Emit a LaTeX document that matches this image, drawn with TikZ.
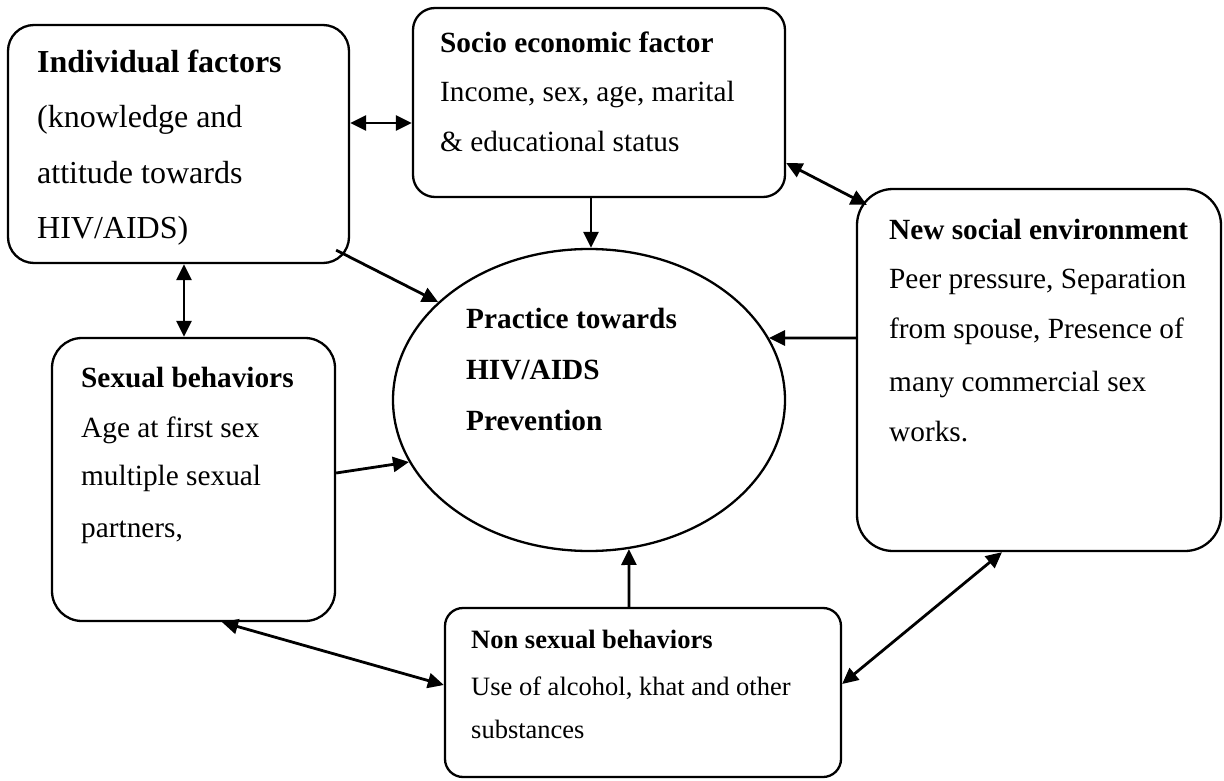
\documentclass[tikz,border=0pt]{standalone}
\usepackage{fontspec}
\setmainfont{Liberation Serif}
\usetikzlibrary{arrows.meta,shapes.geometric}
\begin{document}
\begin{tikzpicture}[x=1pt,y=-1pt,
  box/.style={draw,line width=2.3pt,rounded corners=#1,inner sep=0pt},
  txt/.style={anchor=base west,inner sep=0pt,font=\fontsize{29.3}{35}\selectfont},
  txtbig/.style={anchor=base west,inner sep=0pt,font=\fontsize{32}{38}\selectfont},
  txtsmall/.style={anchor=base west,inner sep=0pt,font=\fontsize{26.5}{32}\selectfont},
  tip/.tip={Triangle[length=16pt 0 0,width=15pt 0 0]},
  conn/.style={line width=2.8pt,-tip},
  conn2/.style={line width=2.8pt,tip-tip}
]
\useasboundingbox (0,0) rectangle (1224,781);

% boxes
\node[box=26pt,minimum width=341pt,minimum height=238pt] (ind) at (178.5,144) {};
\node[box=22pt,minimum width=372pt,minimum height=189pt] (soc) at (599,102.5) {};
\node[box=36pt,minimum width=364pt,minimum height=362pt] (new) at (1039,370) {};
\node[box=30pt,minimum width=283pt,minimum height=283pt] (sex) at (193.5,479.5) {};
\node[box=18pt,minimum width=396pt,minimum height=169pt] (non) at (643,692.5) {};
\node[draw,ellipse,line width=2.3pt,minimum width=392pt,minimum height=302pt,inner sep=0pt] (pr) at (589,400) {};

% texts
\node[txtbig] (ind1) at (37,73) {\bfseries Individual factors};
\node[txtbig] (ind2) at (37,128) {(knowledge and};
\node[txtbig] (ind3) at (37,183) {attitude towards};
\node[txtbig] (ind4) at (37,238) {HIV/AIDS)};

\node[txt] (soc1) at (440,53) {\bfseries Socio economic factor};
\node[txt] (soc2) at (440,102) {Income, sex, age, marital};
\node[txt] (soc3) at (440,152) {\& educational status};

\node[txt] (new1) at (889,239) {\bfseries New social environment};
\node[txt] (new2) at (889,288) {Peer pressure, Separation};
\node[txt] (new3) at (889,338) {from spouse, Presence of};
\node[txt] (new4) at (889,391) {many commercial sex};
\node[txt] (new5) at (889,441) {works.};

\node[txt] (sex1) at (81,387) {\bfseries Sexual behaviors};
\node[txt] (sex2) at (81,437) {Age at first sex};
\node[txt] (sex3) at (81,485) {multiple sexual};
\node[txt] (sex4) at (81,537) {partners,};

\node[txtsmall] (non1) at (471,648) {\bfseries Non sexual behaviors};
\node[txtsmall] (non2) at (471,695) {Use of alcohol, khat and other};
\node[txtsmall] (non3) at (471,738) {substances};

\node[txt] (pr1) at (466,328) {\bfseries Practice towards};
\node[txt] (pr2) at (466,379) {\bfseries HIV/AIDS};
\node[txt] (pr3) at (466,430) {\bfseries Prevention};

% connectors
\draw[conn2] ([yshift=21pt]ind.east) -- ([yshift=21pt]ind.east -| soc.west);
\draw[conn] ([xshift=-8pt]soc.south) -- ([xshift=-8pt]soc.south |- pr.north);
\draw[conn2] ([yshift=-60.5pt]soc.east) -- ([xshift=11pt,yshift=-17pt]new.north west);
\draw[conn] ([xshift=-14pt,yshift=14pt]ind.south east) -- (pr.147);
\draw[conn2] ([xshift=5.5pt]ind.south) -- ([xshift=5.5pt]ind.south |- sex.north);
\draw[conn] ([yshift=32pt]new.west) -- (pr.19.1);
\draw[conn] ([yshift=6.5pt]sex.east) -- (pr.199.3);
\draw[conn] ([xshift=-14pt]non.north) -- (pr.285.1);
\draw[conn2] ([xshift=28.5pt]sex.south) -- ([yshift=7.5pt]non.west);
\draw[conn2] ([xshift=-37pt]new.south) -- ([yshift=8.5pt]non.east);
\end{tikzpicture}
\end{document}
